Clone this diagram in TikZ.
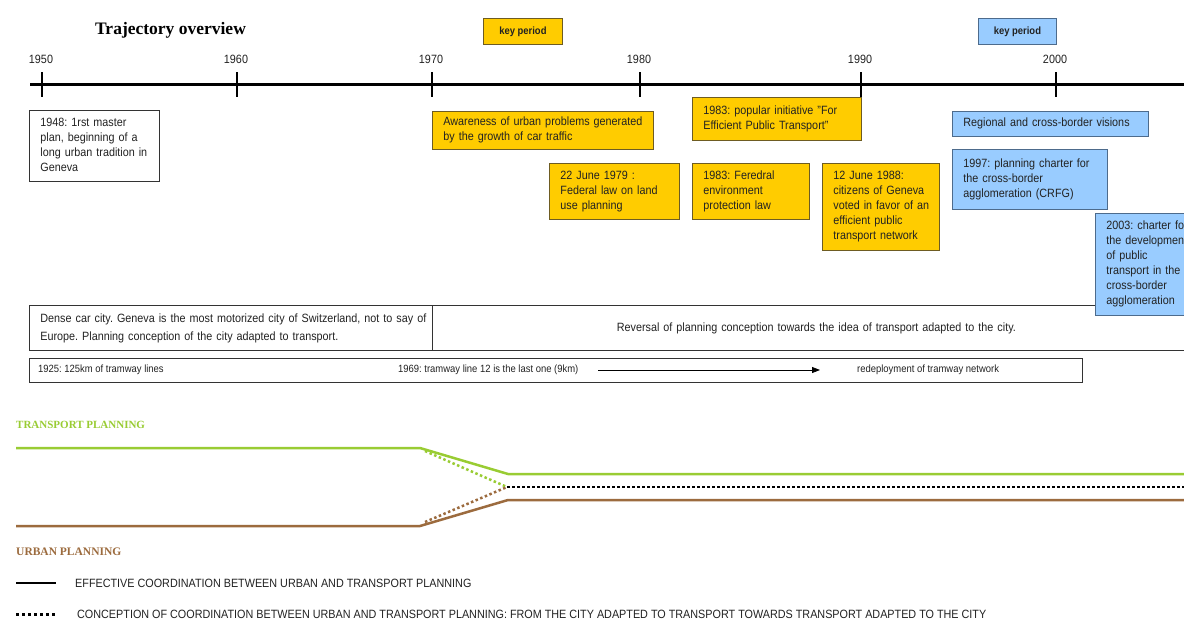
\documentclass[tikz,border=0pt]{standalone}
\usepackage{fontspec}
\setmainfont{Liberation Sans}[FakeStretch=0.9]
\newfontfamily\serifbold{Liberation Serif}
\usetikzlibrary{arrows.meta}
\definecolor{ylw}{HTML}{FFCC00}
\definecolor{ybord}{HTML}{6E5C22}
\definecolor{blu}{HTML}{99CCFF}
\definecolor{bbord}{HTML}{4D6B8C}
\definecolor{txt}{HTML}{222222}
\definecolor{tgreen}{HTML}{99CC33}
\definecolor{ubrown}{HTML}{9C6B3E}
\newcommand{\boxfont}{\fontsize{12}{15}\selectfont}
\newcommand{\tl}[1]{\begin{tabular}{@{}l@{}}#1\end{tabular}}
\frenchspacing
\tikzset{
  basebox/.style={anchor=north west, inner xsep=11pt, inner ysep=0pt, align=left, font=\boxfont, text=txt, line width=0.8pt},
  ybox/.style={basebox, draw=ybord, fill=ylw},
  bbox/.style={basebox, draw=bbord, fill=blu},
  wbox/.style={basebox, draw=black!80, fill=white},
  keybox/.style={anchor=north west, inner sep=0pt, font=\bfseries\fontsize{10.5}{12}\selectfont, text=txt, line width=0.8pt},
  yearlab/.style={anchor=base, font=\fontsize{12}{14}\selectfont, text=txt},
  smalltxt/.style={anchor=west, inner sep=0pt, font=\fontsize{10.5}{12}\selectfont, text=txt},
  legtxt/.style={anchor=west, inner sep=0pt, font=\fontsize{12}{14}\selectfont, text=txt},
  axis/.style={line width=3pt, black},
  tick/.style={line width=2.5pt, black},
  tline/.style={line width=2.5pt, tgreen},
  uline/.style={line width=2.5pt, ubrown},
  dotline/.style={line width=2.5pt, dash pattern=on 2.5pt off 2.5pt},
}
\begin{document}
\begin{tikzpicture}[x=1pt,y=-1pt]
\useasboundingbox (0,0) rectangle (1184,619);
\clip (0,0) rectangle (1184,619);
\fill[white] (0,0) rectangle (1184,619);

% title
\node[anchor=base, font=\serifbold\bfseries\fontsize{17.5}{20}\selectfont, text=black] (title) at (170.5,34) {Trajectory overview};

% key periods
\node[keybox, draw=ybord, fill=ylw, minimum width=79pt, minimum height=26pt] (key1) at (483,18) {key period};
\node[keybox, draw=bbord, fill=blu, minimum width=78pt, minimum height=26pt] (key2) at (978,18) {key period};

% timeline
\draw[axis] (30,84) -- (1184,84);
\foreach \xx/\yr in {42/1950,237/1960,432/1970,640/1980,861/1990,1056/2000}{
  \draw[tick] (\xx,72) -- (\xx,97);
  \node[yearlab] (y\yr) at (\xx-1,63) {\yr};
}

% event boxes
\node[wbox, text width=108pt, minimum height=71pt] (b1948) at (29,110)
  {\tl{1948: 1rst master\\plan, beginning of a\\long urban tradition in\\Geneva}};
\node[ybox, text width=199pt, minimum height=38pt] (aware) at (432,111)
  {\tl{Awareness of urban problems generated\\by the growth of car traffic}};
\node[ybox, text width=108pt, minimum height=56pt] (law79) at (549,163)
  {\tl{22 June 1979 :\\Federal law on land\\use planning}};
\node[ybox, text width=147pt, minimum height=43pt] (init83) at (692,97)
  {\tl{1983: popular initiative "For\\Efficient Public Transport"}};
\node[ybox, text width=95pt, minimum height=56pt] (env83) at (692,163)
  {\tl{1983: Feredral\\environment\\protection law}};
\node[ybox, text width=95pt, minimum height=87pt] (vote88) at (822,163)
  {\tl{12 June 1988:\\citizens of Geneva\\voted in favor of an\\efficient public\\transport network}};
\node[bbox, text width=174pt, minimum height=25pt] (region) at (952,111)
  {\tl{Regional and cross-border visions}};
\node[bbox, text width=133pt, minimum height=60pt] (chart97) at (952,149)
  {\tl{1997: planning charter for\\the cross-border\\agglomeration (CRFG)}};

% conception row
\node[wbox, text width=381pt, minimum height=45pt, font=\fontsize{12}{18}\selectfont] (dense) at (29,305)
  {\tl{Dense car city. Geneva is the most motorized city of Switzerland, not to say of\\Europe. Planning conception of the city adapted to transport.}};
\node[wbox, align=center, inner xsep=0pt, text width=768pt, minimum height=45pt] (reversal) at (432,305)
  {Reversal of planning conception towards the idea of transport adapted to the city.};

\node[bbox, text width=90pt, minimum height=102pt] (chart03) at (1095,213)
  {\tl{2003: charter for\\the development\\of public\\transport in the\\cross-border\\agglomeration}};

% tramway row
\node[draw=black!80, line width=0.8pt, anchor=north west, inner sep=0pt, minimum width=1053pt, minimum height=24pt] (tram) at (29,358) {};
\node[smalltxt] (t1925) at (38,370) {1925: 125km of tramway lines};
\node[smalltxt] (t1969) at (398,370) {1969: tramway line 12 is the last one (9km)};
\node[smalltxt] (tredep) at (857,370) {redeployment of tramway network};
\coordinate (arrS) at (598,370);
\coordinate (arrE) at (820,370);
\draw[line width=0.8pt, -{Triangle[length=8pt,width=6pt]}] (arrS) -- (arrE);

% planning lines
\node[anchor=base west, inner sep=0pt, font=\serifbold\bfseries\fontsize{11}{13}\selectfont, text=tgreen] (tp) at (16,428) {TRANSPORT PLANNING};
\node[anchor=base west, inner sep=0pt, font=\serifbold\bfseries\fontsize{11.5}{13}\selectfont, text=ubrown] (up) at (16,555) {URBAN PLANNING};

\coordinate (g0) at (16,448);
\coordinate (g1) at (420,448);
\coordinate (g2) at (508,474);
\coordinate (g3) at (1184,474);
\coordinate (u0) at (16,526);
\coordinate (u1) at (420,526);
\coordinate (u2) at (508,500);
\coordinate (u3) at (1184,500);
\coordinate (m0) at (507,487);
\coordinate (m1) at (1184,487);
\coordinate (gd) at (425,451);
\coordinate (ud) at (425,522);

\draw[tline, line join=round] (g0) -- (g1) -- (g2) -- (g3);
\draw[uline, line join=round] (u0) -- (u1) -- (u2) -- (u3);
\draw[dotline, tgreen] (gd) -- (m0);
\draw[dotline, ubrown] (ud) -- (m0);
\draw[dotline, black] (m0) -- (m1);

% legend
\coordinate (l1a) at (16,583);
\coordinate (l1b) at (56,583);
\coordinate (l2a) at (16,614);
\coordinate (l2b) at (56,614);
\draw[line width=2.5pt, black] (l1a) -- (l1b);
\draw[black, line width=3pt, dash pattern=on 3pt off 3pt] (l2a) -- (l2b);
\node[legtxt] (leg1) at (75,583) {EFFECTIVE COORDINATION BETWEEN URBAN AND TRANSPORT PLANNING};
\node[legtxt] (leg2) at (77,614) {CONCEPTION OF COORDINATION BETWEEN URBAN AND TRANSPORT PLANNING: FROM THE CITY ADAPTED TO TRANSPORT TOWARDS TRANSPORT ADAPTED TO THE CITY};
\end{tikzpicture}
\end{document}
